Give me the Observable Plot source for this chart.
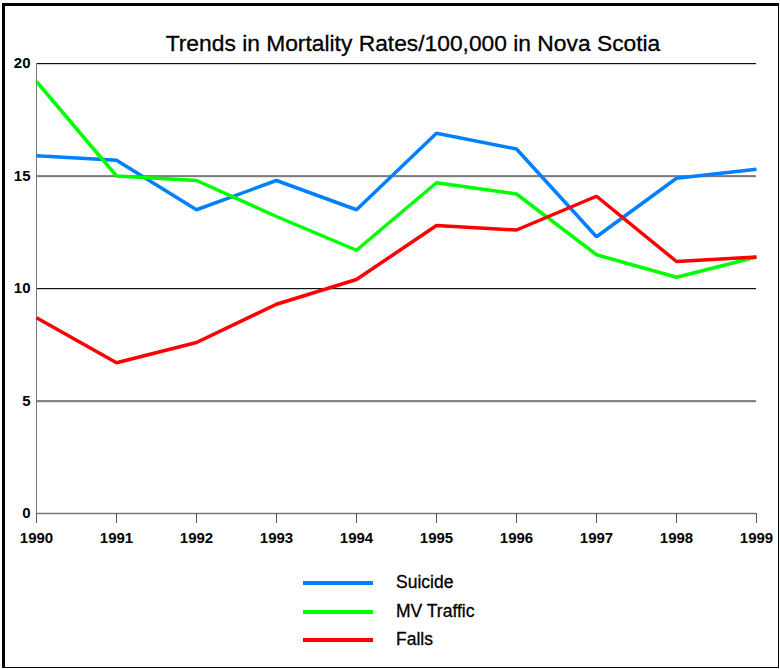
<!DOCTYPE html>
<html>
<head>
<meta charset="utf-8">
<script src="https://cdn.jsdelivr.net/npm/d3@7"></script>
<script src="https://cdn.jsdelivr.net/npm/@observablehq/plot@0.6"></script>
<style>
  html, body { margin: 0; padding: 0; background: #fff; }
  #wrap { position: relative; width: 780px; height: 669px; overflow: hidden; font-family: "Liberation Sans", Arial, sans-serif; }
  #frame { position: absolute; left: 2px; top: 3px; width: 773px; height: 661px;
           border-style: solid; border-color: #000; border-width: 3px 1px 1px 3px; pointer-events: none; }
  #title { position: absolute; left: 0; width: 826px; top: 30px; text-align: center; font-size: 22.8px; color: #000; -webkit-text-stroke: 0.3px #000; }
  #chart { position: absolute; left: 0; top: 0; }
  .leg { position: absolute; left: 303px; height: 0; }
  .leg .sw { position: absolute; left: 0; width: 70px; height: 4px; top: -2px; }
  .leg .lb { position: absolute; left: 93px; top: -11px; font-size: 17.5px; white-space: nowrap; color: #000; -webkit-text-stroke: 0.3px #000; }
</style>
</head>
<body>
<div id="wrap">
  <div id="chart"></div>
  <div id="title"></div>
  <div id="legend"></div>
  <div id="frame"></div>
</div>
<script>
const titleText = "Trends in Mortality Rates/100,000 in Nova Scotia";
const years = [1990, 1991, 1992, 1993, 1994, 1995, 1996, 1997, 1998, 1999];
const suicide = [15.9, 15.7, 13.5, 14.8, 13.5, 16.9, 16.2, 12.3, 14.9, 15.3];
const mvTraffic = [19.2, 15.0, 14.8, 13.2, 11.7, 14.7, 14.2, 11.5, 10.5, 11.4];
const falls = [8.7, 6.7, 7.6, 9.3, 10.4, 12.8, 12.6, 14.1, 11.2, 11.4];
const seriesNames = ["Suicide", "MV Traffic", "Falls"];
const seriesColors = ["#0080ff", "#00ff00", "#ff0000"];
const yTicks = [0, 5, 10, 15, 20];
const gridValues = [5, 10, 15, 20];

const seriesValues = [suicide, mvTraffic, falls];
const rows = [];
seriesNames.forEach((name, i) => {
  years.forEach((yr, j) => rows.push({series: name, year: yr, value: seriesValues[i][j]}));
});

document.getElementById("title").textContent = titleText;

const chart = Plot.plot({
  width: 780,
  height: 669,
  marginLeft: 36,
  marginRight: 24,
  marginTop: 63,
  marginBottom: 156,
  style: {background: "transparent", fontFamily: "'Liberation Sans', Arial, sans-serif"},
  x: {type: "linear", domain: [1990, 1999]},
  y: {domain: [0, 20]},
  color: {domain: seriesNames, range: seriesColors},
  marks: [
    Plot.ruleY(gridValues, {stroke: "#d0d0d0", strokeWidth: 1, dy: 1}),
    Plot.ruleY(gridValues, {stroke: "#111", strokeWidth: 1}),
    Plot.ruleY([0], {stroke: "#777", strokeWidth: 1.5}),
    Plot.ruleX([1990], {y1: 0, y2: 20, stroke: "#777", strokeWidth: 1}),
    Plot.axisY({ticks: yTicks, tickSize: 0, tickPadding: 6, tickFormat: d => String(d),
      fontSize: 15, fontWeight: "bold", fill: "#000", label: null}),
    Plot.axisX({ticks: years, tickSize: 10, tickPadding: 9, tickFormat: d => String(d),
      fontSize: 15, fontWeight: "bold", fill: "#000", stroke: "#555",
      label: null}),
    Plot.line(rows, {x: "year", y: "value", z: "series", stroke: "series", strokeWidth: 3.5,
      strokeLinejoin: "miter", strokeLinecap: "butt"})
  ]
});
document.getElementById("chart").appendChild(chart);

const legend = document.getElementById("legend");
const legendY = [583, 612, 640];
seriesNames.forEach((name, i) => {
  const d = document.createElement("div");
  d.className = "leg";
  d.style.top = legendY[i] + "px";
  const sw = document.createElement("div");
  sw.className = "sw";
  sw.style.background = seriesColors[i];
  const lb = document.createElement("div");
  lb.className = "lb";
  lb.textContent = name;
  d.appendChild(sw); d.appendChild(lb);
  legend.appendChild(d);
});
</script>
</body>
</html>
